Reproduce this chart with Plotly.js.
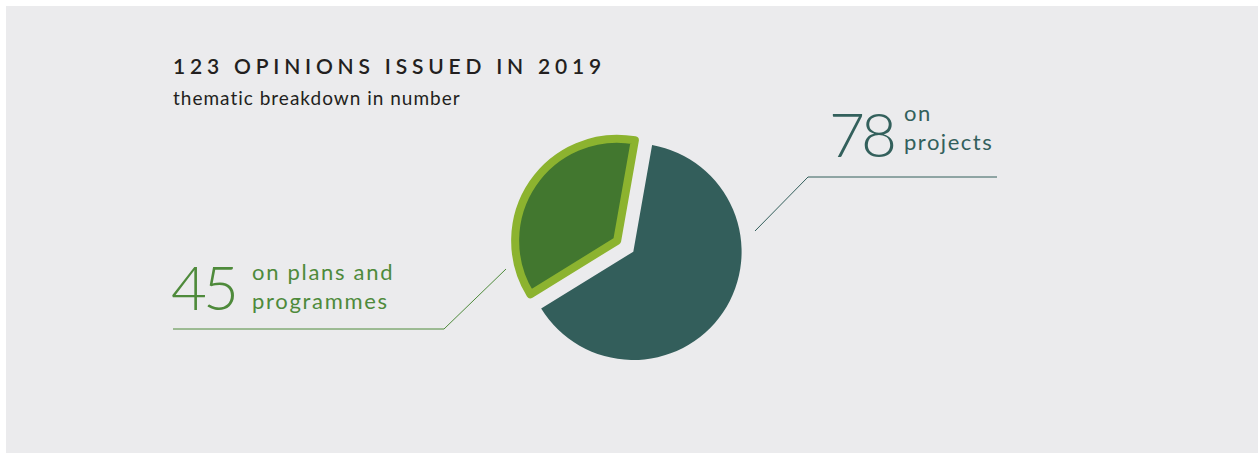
<!DOCTYPE html>
<html>
<head>
<meta charset="utf-8">
<script src="https://cdn.plot.ly/plotly-3.0.1.min.js"></script>
<style>
html,body{margin:0;padding:0;background:#ffffff;}
#chart{width:1258px;height:454px;}
</style>
</head>
<body>
<div id="chart"></div>
<script>
// ---- data ----
const categories = ["on projects", "on plans and programmes"];
const values = [78, 45];
const valueLabels = ["78", "45"];
const categoryLabels = ["on<br>projects", "on plans and<br>programmes"];
const titleText = "123 OPINIONS ISSUED IN 2019";
const subtitleText = "thematic breakdown in number";

// ---- styling ----
const W = 1258, H = 454;
const teal = "#335e5b";
const greenFill = "#42772f";
const greenEdge = "#8cb32f";
const greenText = "#4e8a3b";
const tealText = "#33605c";
const bg = "#ebebed";
const FONT = "Lato, 'Open Sans', sans-serif";

const px = x => x / W;
const py = y => 1 - y / H;
function dom(cx, cy, half) {
  return {x: [px(cx - half), px(cx + half)], y: [py(cy + half), py(cy - half)]};
}
const CX = 633.3, CY = 251.7;
const R = 108.3;
const RB = 102, PULL = 19.5;

const traceA = {
  type: "pie", values: values, labels: categories, sort: false,
  direction: "clockwise", rotation: 10,
  marker: {colors: [teal, "rgba(0,0,0,0)"], line: {width: 0}},
  textinfo: "none", hoverinfo: "none", showlegend: false,
  domain: dom(CX, CY, R)
};
const traceB = {
  type: "pie", values: values, labels: categories, sort: false,
  direction: "clockwise", rotation: 10,
  pull: [0, PULL / RB],
  marker: {colors: ["rgba(0,0,0,0)", greenFill],
           line: {color: ["rgba(0,0,0,0)", greenEdge], width: [0, 8]}},
  textinfo: "none", hoverinfo: "none", showlegend: false,
  domain: dom(CX, CY, RB * (1 + PULL / RB))
};

function ann(text, x, y, size, color, weight) {
  return {text: text, xref: "paper", yref: "paper", x: px(x), y: py(y),
    xanchor: "left", yanchor: "middle", align: "left", showarrow: false,
    font: {family: FONT, size: size, color: color, weight: weight || 400}};
}

const annotations = [
  ann(titleText, 171, 65, 21, "#231f20", 600),
  ann(subtitleText, 171, 97.6, 19, "#231f20", 400),
  ann(valueLabels[1], 169, 286, 62, greenText, 300),
  ann(categoryLabels[1], 250, 285.5, 22, greenText, 400),
  ann(valueLabels[0], 827, 133, 62, tealText, 300),
  ann(categoryLabels[0], 902, 126.5, 22, tealText, 400)
];
const spacing = ["4.8px", "1px", "-4px", "1.7px", "-4px", "1.5px"];

const layout = {
  width: W, height: H, autosize: false,
  margin: {l: 0, r: 0, t: 0, b: 0, pad: 0},
  paper_bgcolor: "#ffffff", plot_bgcolor: "rgba(0,0,0,0)",
  showlegend: false,
  shapes: [
    {type: "rect", xref: "paper", yref: "paper", layer: "below",
     x0: px(6), x1: px(1258), y0: py(453), y1: py(6),
     fillcolor: bg, line: {width: 0}},
    {type: "path", xref: "paper", yref: "paper", layer: "above",
     path: `M ${px(173)} ${py(329)} L ${px(444)} ${py(329)} L ${px(506)} ${py(269)}`,
     line: {color: greenText, width: 1}},
    {type: "path", xref: "paper", yref: "paper", layer: "above",
     path: `M ${px(997)} ${py(177)} L ${px(808)} ${py(177)} L ${px(755)} ${py(231)}`,
     line: {color: teal, width: 1}}
  ],
  annotations: annotations
};

Plotly.newPlot("chart", [traceA, traceB], layout, {staticPlot: true, displayModeBar: false}).then(function () {
  const t = document.querySelectorAll(".annotation-text");
  t.forEach(function (el, i) { if (spacing[i]) el.style.letterSpacing = spacing[i]; });
});
</script>
</body>
</html>
